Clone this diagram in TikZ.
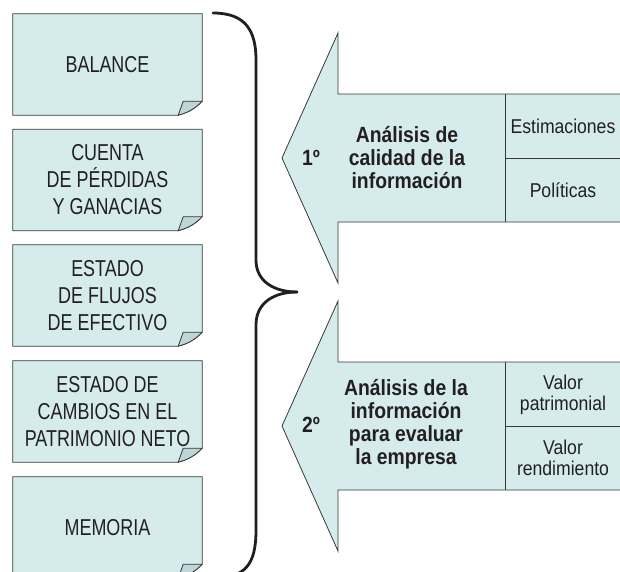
\documentclass[tikz,border=0pt]{standalone}
\usepackage{fontspec}
\setmainfont{Liberation Sans}[FakeStretch=0.88]
\newfontfamily\docfont{Liberation Sans}[FakeStretch=0.78]
\usetikzlibrary{calc,backgrounds}

\definecolor{panel}{RGB}{214,236,236}
\definecolor{flap}{RGB}{190,214,216}
\definecolor{edge}{RGB}{55,55,55}
\definecolor{ink}{RGB}{35,31,32}

\tikzset{
    doc/.style={minimum width=189pt, minimum height=101pt, inner sep=0pt,
        align=center, text=ink, font=\docfont\fontsize{23}{27}\selectfont},
    outline/.style={fill=panel, draw=edge, line width=0.8pt},
    cell/.style={align=center, text=ink, font=\fontsize{20}{21}\selectfont},
    stage/.style={align=center, text=ink, font=\bfseries\fontsize{22}{23}\selectfont},
    brace/.style={draw=ink, line width=2.8pt, line cap=round}
}

% folded sheet behind a document node
\newcommand{\docshape}[1]{%
    \draw[outline] (#1.north west) -- (#1.north east) -- ($(#1.south east)+(0,-14)$)
        to[bend left=15] ($(#1.south east)+(-24,0)$) -- (#1.south west) -- cycle;
    \draw[fill=flap, draw=edge, line width=0.8pt] ($(#1.south east)+(-24,0)$)
        -- ($(#1.south east)+(-19,-14)$) -- ($(#1.south east)+(0,-14)$)
        to[bend left=15] ($(#1.south east)+(-24,0)$) -- cycle;
}

\begin{document}
\begin{tikzpicture}[x=1pt, y=-1pt]
\useasboundingbox (0,0) rectangle (620,571);
\clip (0,0) rectangle (620,571);

% Documents
\node[doc] (balance) at (107.5,64.5)  {BALANCE};
\node[doc] (cuenta)  at (107.5,180)   {CUENTA\\DE PÉRDIDAS\\Y GANACIAS};
\node[doc] (flujos)  at (107.5,295.5) {ESTADO\\DE FLUJOS\\DE EFECTIVO};
\node[doc] (cambios) at (107.5,411.5) {ESTADO DE\\CAMBIOS EN EL\\PATRIMONIO NETO};
\node[doc] (memoria) at (107.5,527.5) {MEMORIA};
\begin{scope}[on background layer]
\foreach \d in {balance,cuenta,flujos,cambios,memoria}{\docshape{\d}}
\end{scope}

% Brace
\draw[brace] (213,13) .. controls (245,13) and (256,30) .. (256,60)
    -- (256,260) .. controls (256,282) and (275,292) .. (297,292);
\draw[brace] (297,292) .. controls (275,292) and (256,302) .. (256,325)
    -- (256,530) .. controls (256,565) and (245,578) .. (213,578);

% Arrows
\foreach \yc in {158,426}{
    \draw[outline] (282,\yc) -- (338,\yc-125) -- (338,\yc-64) -- (640,\yc-64)
        -- (640,\yc+64) -- (338,\yc+64) -- (338,\yc+125) -- cycle;
    \draw[draw=edge, line width=0.8pt] (505,\yc-64) -- (505,\yc+64);
    \draw[draw=edge, line width=0.8pt] (505,\yc) -- (640,\yc);
}

% Texts of the first step
\node[stage] (num1)  at (311,158) {1º};
\node[stage] (step1) at (407,158) {Análisis de\\calidad de la\\información};
\node[cell]  (estim) at (563,126) {Estimaciones};
\node[cell]  (polit) at (563,190) {Políticas};

% Texts of the second step
\node[stage] (num2)  at (311,425) {2º};
\node[stage] (step2) at (406,424) {Análisis de la\\información\\para evaluar\\la empresa};
\node[cell]  (patri) at (563,395) {Valor\\patrimonial};
\node[cell]  (rendi) at (563,458) {Valor\\rendimiento};

\end{tikzpicture}
\end{document}
